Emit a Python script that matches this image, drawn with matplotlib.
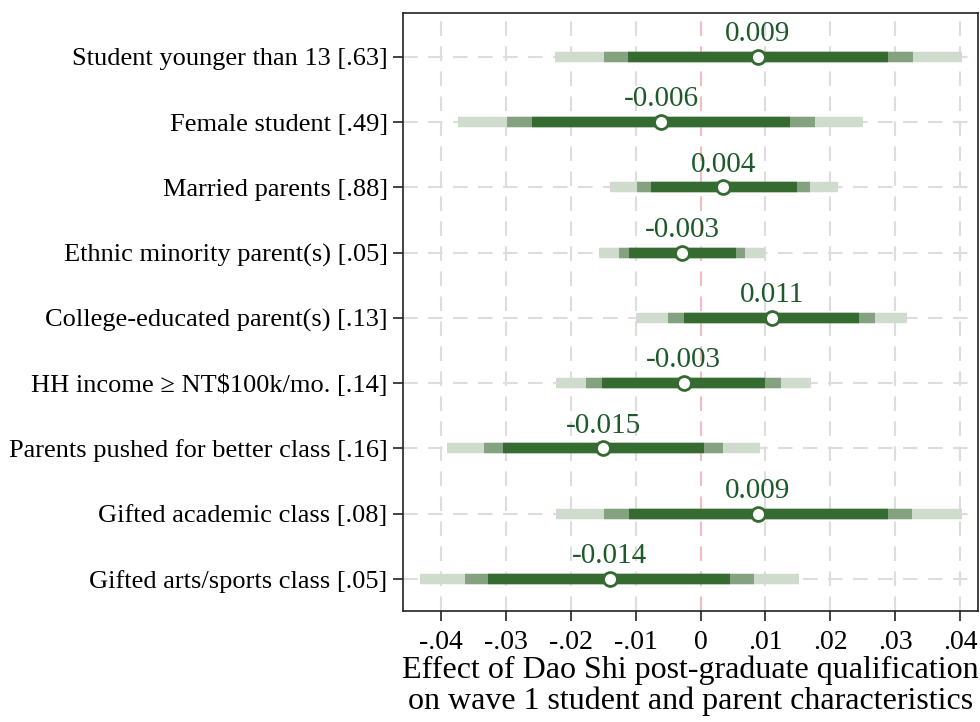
import numpy as np
import matplotlib
matplotlib.use("Agg")
import matplotlib.pyplot as plt

plt.rcParams['font.family'] = ['Liberation Serif', 'DejaVu Serif']

# variable labels, top to bottom
labels = [
    "Student younger than 13 [.63]",
    "Female student [.49]",
    "Married parents [.88]",
    "Ethnic minority parent(s) [.05]",
    "College-educated parent(s) [.13]",
    "HH income \u2265 NT$100k/mo. [.14]",
    "Parents pushed for better class [.16]",
    "Gifted academic class [.08]",
    "Gifted arts/sports class [.05]",
]

# point estimates
coef = [0.0088, -0.0061, 0.0035, -0.0028, 0.0110, -0.0026, -0.0150, 0.0088, -0.0140]

# confidence intervals (outer, middle, inner)
ci_lo_outer = [-0.0224, -0.0373, -0.0140, -0.0156, -0.0100, -0.0223, -0.0390, -0.0223, -0.0432]
ci_hi_outer = [0.0402, 0.0250, 0.0211, 0.0100, 0.0318, 0.0170, 0.0092, 0.0402, 0.0152]
ci_lo_mid = [-0.0149, -0.0298, -0.0098, -0.0126, -0.0050, -0.0177, -0.0333, -0.0148, -0.0363]
ci_hi_mid = [0.0327, 0.0176, 0.0169, 0.0069, 0.0269, 0.0124, 0.0034, 0.0326, 0.0082]
ci_lo_in = [-0.0111, -0.0260, -0.0076, -0.0110, -0.0025, -0.0152, -0.0304, -0.0110, -0.0327]
ci_hi_in = [0.0289, 0.0138, 0.0148, 0.0054, 0.0244, 0.0100, 0.0005, 0.0288, 0.0046]

xticks = [-0.04, -0.03, -0.02, -0.01, 0, 0.01, 0.02, 0.03, 0.04]
xticklabels = ["-.04", "-.03", "-.02", "-.01", "0", ".01", ".02", ".03", ".04"]

light = "#cfdccd"
mid = "#84a27f"
dark = "#356b31"

fig = plt.figure(figsize=(9.8, 7.22), dpi=100)
ax = fig.add_axes([0.4112, 0.1537, 0.5867, 0.8283])

y = np.arange(len(labels))

# grid
for xv in xticks:
    if xv == 0:
        continue
    ax.axvline(xv, color="#dddddd", lw=1.5, ls=(0, (7, 5)), zorder=0)
for yv in y:
    ax.axhline(yv, color="#dddddd", lw=1.5, ls=(0, (7, 5)), zorder=0)
ax.axvline(0, color="#f6bcbc", lw=1.5, ls=(0, (7, 5)), zorder=0)

ax.hlines(y, ci_lo_outer, ci_hi_outer, color=light, lw=7.5, zorder=2)
ax.hlines(y, ci_lo_mid, ci_hi_mid, color=mid, lw=7.5, zorder=3)
ax.hlines(y, ci_lo_in, ci_hi_in, color=dark, lw=7.5, zorder=4)
ax.plot(coef, y, "o", ms=10, mfc="white", mec=dark, mew=2, zorder=5)

for c, yy in zip(coef, y):
    ax.annotate("%.3f" % c, (c, yy), xytext=(0, 7), textcoords="offset points",
                ha="center", va="bottom", fontsize=21, color="#1d5a2a", zorder=6)

ax.set_xlim(-0.0458, 0.0427)
ax.set_ylim(8.49, -0.67)
ax.set_yticks(y)
ax.set_yticklabels(labels, fontsize=19)
ax.set_xticks(xticks)
ax.set_xticklabels(xticklabels, fontsize=20)
ax.tick_params(axis="both", direction="out", length=7, width=1.2, color="#222222")
ax.tick_params(axis="x", pad=7)
ax.tick_params(axis="y", pad=4)
for sp in ax.spines.values():
    sp.set_color("#222222")
    sp.set_linewidth(1.2)

ax.set_xlabel("Effect of Dao Shi post-graduate qualification\non wave 1 student and parent characteristics",
              fontsize=23, linespacing=1.05, labelpad=0)

fig.savefig("out.png", dpi=100)
